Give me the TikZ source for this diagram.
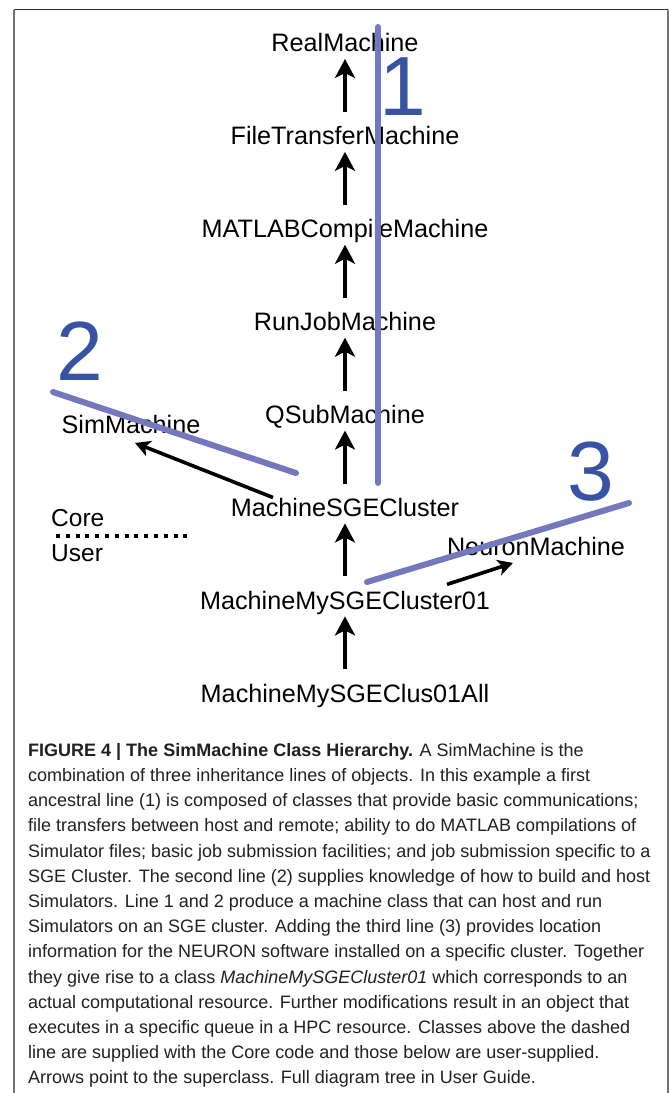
\documentclass[tikz,border=0pt]{standalone}
\usepackage{fontspec}
\setmainfont{Liberation Sans}
\newfontfamily\capfont{Liberation Sans}
\usepackage{tikz}
\usetikzlibrary{arrows.meta}
\usetikzlibrary{positioning, calc}
\definecolor{linecol}{RGB}{116,120,188}
\definecolor{numcol}{RGB}{56,83,164}
\definecolor{capcol}{RGB}{35,31,32}

\begin{document}
\begin{tikzpicture}[x=1pt, y=-1pt, ->, >={Stealth[length=19pt,width=20pt,inset=5pt]},
  node distance=92.9pt,
  cls node/.style={inner sep=0pt, text height=17.5pt, text depth=0pt, font=\fontsize{25.2}{28}\selectfont},
  lbl node/.style={inner sep=0pt, anchor=west, font=\fontsize{24.5}{28}\selectfont},
  num node/.style={inner sep=0pt, text=numcol, font=\fontsize{84}{90}\selectfont},
  blueline/.style={-, linecol, line width=6pt, line cap=round}]
  \useasboundingbox (0,0) rectangle (669,1093);
  % frame
  \draw[-, black!80, line width=1.3pt] (14,9.5) -- (668,9.5);
  \draw[-, black!55, line width=1.3pt] (14,9.5) -- (14,1093);
  \draw[-, black!55, line width=1.3pt] (668,9.5) -- (668,1093);

  \node[cls node] (1) at (345,43) {RealMachine};
  \node[cls node, below of = 1] (2) {FileTransferMachine};
  \node[cls node, below of = 2] (3) {MATLABCompileMachine};
  \node[cls node, below of = 3] (4) {RunJobMachine};
  \node[cls node, below of = 4] (5) {QSubMachine};
  \node[cls node, below of = 5] (6) {MachineSGECluster};
  \node[cls node, below of = 6] (7) {MachineMySGECluster01};
  \node[cls node, below of = 7] (8) {MachineMySGEClus01All};
  \node[cls node] (9) at (131,425) {SimMachine};
  \node[cls node] (10) at (536,547) {NeuronMachine};
  \node[lbl node] (11) at (51,518) {Core};
  \node[lbl node] (12) at (51,553) {User};

  \path[line width=4.5pt, shorten >=7pt, shorten <=15pt]
    (2) edge (1)
    (3) edge (2)
    (4) edge (3)
    (5) edge (4)
    (6) edge (5)
    (7) edge (6)
    (8) edge (7);
  \draw[line width=3.6pt, >={Stealth[length=15pt,width=16pt,inset=4pt]}]
    ([shift={(-72,-10)}]6.center) -- ([shift={(4,9)}]9.south);
  \draw[line width=3.6pt, >={Stealth[length=15pt,width=16pt,inset=4pt]}]
    ([shift={(102,-16)}]7.center) -- ([shift={(-23,7)}]10.south);

  % core / user split
  \draw[-, line width=4pt, dash pattern=on 4pt off 5.8pt] (56,535.5) -- (187,535.5);

  % inheritance lines
  \draw[blueline] (378,27) -- (378,483);
  \draw[blueline] (53,392) -- (296,473);
  \draw[blueline] (367,582) -- (629,503);
  \node[num node] (n1) at (403,87) {1};
  \node[num node] (n2) at (80,351) {2};
  \node[num node] (n3) at (591,472) {3};

  % caption
  \node[inner sep=0pt, anchor=north west, align=left, text=capcol,
    font=\capfont\fontsize{18}{25.2}\selectfont] (cap) at (28,743) {%
    \textbf{FIGURE 4 | The SimMachine Class Hierarchy.} A SimMachine is the\\
    combination of three inheritance lines of objects. In this example a first\\
    ancestral line (1) is composed of classes that provide basic communications;\\
    file transfers between host and remote; ability to do MATLAB compilations of\\
    Simulator files; basic job submission facilities; and job submission specific to a\\
    SGE Cluster. The second line (2) supplies knowledge of how to build and host\\
    Simulators. Line 1 and 2 produce a machine class that can host and run\\
    Simulators on an SGE cluster. Adding the third line (3) provides location\\
    information for the NEURON software installed on a specific cluster. Together\\
    they give rise to a class \textit{MachineMySGECluster01} which corresponds to an\\
    actual computational resource. Further modifications result in an object that\\
    executes in a specific queue in a HPC resource. Classes above the dashed\\
    line are supplied with the Core code and those below are user-supplied.\\
    Arrows point to the superclass. Full diagram tree in User Guide.};
\end{tikzpicture}
\end{document}
